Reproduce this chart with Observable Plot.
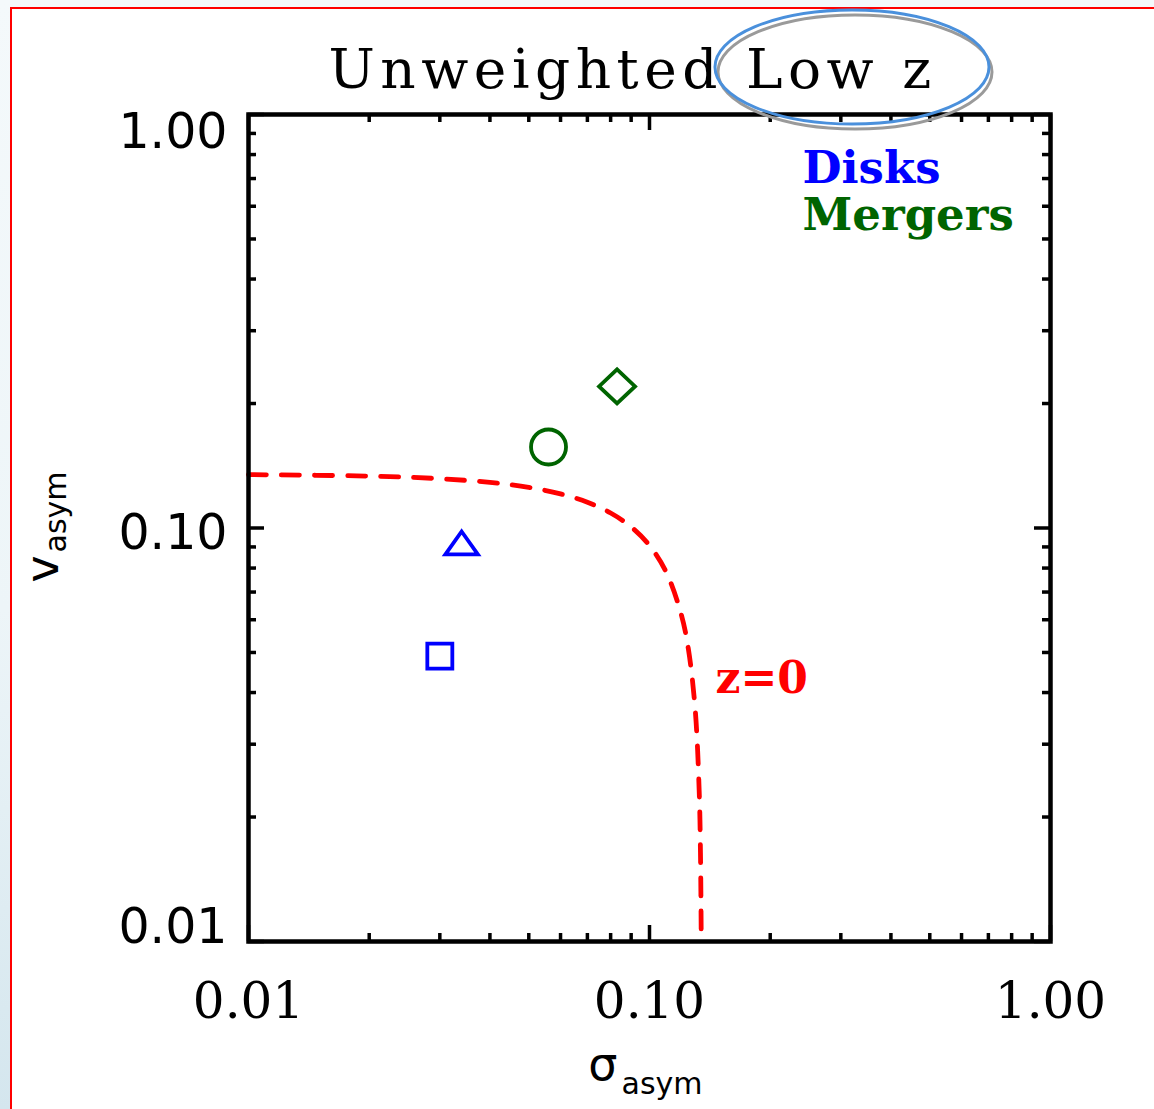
<!DOCTYPE html>
<html>
<head>
<meta charset="utf-8">
<script src="https://cdn.jsdelivr.net/npm/d3@7"></script>
<script src="https://cdn.jsdelivr.net/npm/@observablehq/plot@0.6"></script>
<style>
  html, body { margin: 0; padding: 0; }
  body {
    width: 1154px; height: 1109px; overflow: hidden;
    background: linear-gradient(to bottom, #f4f9fb 0%, #edf5f8 55%, #d4e6ee 100%);
  }
  #page { position: relative; width: 1154px; height: 1109px; }
  #sheet {
    position: absolute; left: 10px; top: 7px; right: -20px; bottom: -20px;
    background: #ffffff;
    border-top: 2px solid #ff0000; border-left: 2px solid #ff0000;
  }
  #chart { position: absolute; left: 0; top: 0; }
</style>
</head>
<body>
<div id="page">
  <div id="sheet"></div>
  <div id="chart"></div>
</div>
<script>
// Velocity / dispersion asymmetry of the low-redshift sample (unweighted)
const diskSigma = [0.030, 0.034];
const diskV = [0.049, 0.092];
const mergerSigma = [0.056, 0.083];
const mergerV = [0.157, 0.220];

// z = 0 boundary separating disks from mergers
const z0Sigma = [0.0100, 0.0200, 0.0300, 0.0400, 0.0500, 0.0600, 0.0700, 0.0800, 0.0900,
                 0.1000, 0.1100, 0.1200, 0.1250, 0.1300, 0.1330, 0.1340, 0.1346];
const z0V = [0.1346, 0.1335, 0.1316, 0.1289, 0.1254, 0.1209, 0.1154, 0.1087, 0.1006,
             0.0907, 0.0783, 0.0618, 0.0510, 0.0364, 0.0232, 0.0164, 0.0100];

// axis ticks (same on both log axes)
const majorTicks = [0.01, 0.1, 1];
const minorTicks = [0.02, 0.03, 0.04, 0.05, 0.06, 0.07, 0.08, 0.09,
                    0.2, 0.3, 0.4, 0.5, 0.6, 0.7, 0.8, 0.9];
const tickLabels = ["0.01", "0.10", "1.00"];

const titleText = "Unweighted Low z";
const groupNames = ["Disks", "Mergers"];
const curveLabel = "z=0";

const BLUE = "#0000ff", GREEN = "#006400", RED = "#ff0000";

const disks = diskSigma.map((s, i) => ({sigma: s, v: diskV[i]}));
const mergers = mergerSigma.map((s, i) => ({sigma: s, v: mergerV[i]}));
const z0 = z0Sigma.map((s, i) => ({sigma: s, v: z0V[i]}));
const ticks = majorTicks.map((t, i) => ({t, label: tickLabels[i]}));

// open marker outlines; r is recovered from the symbol area Plot passes in
const unit = (size) => Math.sqrt(size / Math.PI);
const squareSym = {draw(c, size) { const r = unit(size);
  c.moveTo(-r, -r); c.lineTo(r, -r); c.lineTo(r, r); c.lineTo(-r, r); c.closePath(); }};
const triangleSym = {draw(c, size) { const r = unit(size);
  c.moveTo(0, -0.92 * r); c.lineTo(1.3 * r, 0.92 * r); c.lineTo(-1.3 * r, 0.92 * r); c.closePath(); }};
const circleSym = {draw(c, size) { const R = 1.4 * unit(size);
  c.moveTo(R, 0); c.arc(0, 0, R, 0, 2 * Math.PI); }};
const diamondSym = {draw(c, size) { const r = unit(size);
  c.moveTo(0, -1.36 * r); c.lineTo(1.44 * r, 0); c.lineTo(0, 1.36 * r); c.lineTo(-1.44 * r, 0); c.closePath(); }};
const diskSymbols = [squareSym, triangleSym];
const mergerSymbols = [circleSym, diamondSym];

const W = 1154, H = 1109;
const mL = 248, mR = 104, mT = 114, mB = 168;
const fw = W - mL - mR, fh = H - mT - mB;
const MINOR = 8, MAJOR = 16;
const tickStyle = {stroke: "black", strokeWidth: 3.5};

const serif = "'DejaVu Serif', serif";
const sans = "'DejaVu Sans', sans-serif";
const label = {lineAnchor: "middle", fill: "black"};

const svg = Plot.plot({
  width: W, height: H,
  marginLeft: mL, marginRight: mR, marginTop: mT, marginBottom: mB,
  x: {type: "log", domain: [0.01, 1], axis: null},
  y: {type: "log", domain: [0.01, 1], axis: null},
  style: {background: "none", overflow: "visible"},
  marks: [
    Plot.line(z0, {x: "sigma", y: "v", stroke: RED, strokeWidth: 4.8,
      strokeDasharray: "18,15", curve: "catmull-rom"}),
    ...disks.map((d, i) => Plot.dot([d], {x: "sigma", y: "v", symbol: diskSymbols[i],
      r: 12.5, fill: "none", stroke: BLUE, strokeWidth: 3.8})),
    ...mergers.map((d, i) => Plot.dot([d], {x: "sigma", y: "v", symbol: mergerSymbols[i],
      r: 12.5, fill: "none", stroke: GREEN, strokeWidth: 3.8})),

    // inward ticks on all four sides
    Plot.tickX(minorTicks, {x: d => d, insetTop: fh - MINOR, ...tickStyle}),
    Plot.tickX(minorTicks, {x: d => d, insetBottom: fh - MINOR, ...tickStyle}),
    Plot.tickX(majorTicks, {x: d => d, insetTop: fh - MAJOR, ...tickStyle}),
    Plot.tickX(majorTicks, {x: d => d, insetBottom: fh - MAJOR, ...tickStyle}),
    Plot.tickY(minorTicks, {y: d => d, insetRight: fw - MINOR, ...tickStyle}),
    Plot.tickY(minorTicks, {y: d => d, insetLeft: fw - MINOR, ...tickStyle}),
    Plot.tickY(majorTicks, {y: d => d, insetRight: fw - MAJOR, ...tickStyle}),
    Plot.tickY(majorTicks, {y: d => d, insetLeft: fw - MAJOR, ...tickStyle}),
    Plot.frame({stroke: "black", strokeWidth: 4.5}),

    // tick labels: x below the frame, y at the left (end labels kept inside the frame span)
    Plot.text(ticks, {x: "t", text: "label", frameAnchor: "bottom", dy: 60,
      fontFamily: serif, fontSize: 50, ...label}),
    ...ticks.map(d => Plot.text([d], {y: "t", text: "label", frameAnchor: "left",
      textAnchor: "end", dx: -21, dy: d.t === 1 ? 18 : d.t === 0.01 ? -14 : 5,
      fontFamily: sans, fontSize: 49, ...label})),

    // axis titles with subscripts
    Plot.text(["σ"], {text: d => d, frameAnchor: "bottom", textAnchor: "end",
      dx: -32, dy: 124, fontFamily: sans, fontSize: 46, ...label}),
    Plot.text(["asym"], {text: d => d, frameAnchor: "bottom", textAnchor: "start",
      dx: -28, dy: 143, fontFamily: sans, fontSize: 30, ...label}),
    Plot.text(["v"], {text: d => d, frameAnchor: "left", textAnchor: "start", rotate: -90,
      dx: -205, dy: 54.5, fontFamily: sans, fontSize: 46, ...label}),
    Plot.text(["asym"], {text: d => d, frameAnchor: "left", textAnchor: "start", rotate: -90,
      dx: -192, dy: 24.5, fontFamily: sans, fontSize: 30, ...label}),

    // title
    Plot.text([titleText], {text: d => d, frameAnchor: "top", textAnchor: "start",
      dx: 328 - (mL + fw / 2), dy: -44, fontFamily: serif, fontSize: 55, ...label}),

    // group key
    Plot.text([groupNames[0]], {text: d => d, frameAnchor: "top-left", textAnchor: "start",
      dx: 554, dy: 54, fontFamily: serif, fontWeight: "bold", fontSize: 45, ...label, fill: BLUE}),
    Plot.text([groupNames[1]], {text: d => d, frameAnchor: "top-left", textAnchor: "start",
      dx: 554, dy: 101, fontFamily: serif, fontWeight: "bold", fontSize: 45, ...label, fill: GREEN}),

    // boundary label
    Plot.text([{sigma: 0.146, v: 0.0432, label: curveLabel}], {x: "sigma", y: "v", text: "label",
      textAnchor: "start", fontFamily: serif, fontWeight: "bold", fontSize: 44, ...label, fill: RED})
  ]
});

// the title is set with wide letter spacing
d3.select(svg).selectAll("text")
  .filter(function() { return this.textContent === titleText; })
  .style("letter-spacing", "5.5px");

// highlight ring drawn around "Low z" (with a soft grey shadow)
const ring = d3.select(svg).append("g").attr("fill", "none").attr("stroke-width", 3);
ring.append("ellipse").attr("cx", 855).attr("cy", 72).attr("rx", 137).attr("ry", 57)
  .attr("stroke", "#9a9a9a");
ring.append("ellipse").attr("cx", 852).attr("cy", 67).attr("rx", 137).attr("ry", 57)
  .attr("stroke", "#4a90dc");

document.getElementById("chart").appendChild(svg);
</script>
</body>
</html>
